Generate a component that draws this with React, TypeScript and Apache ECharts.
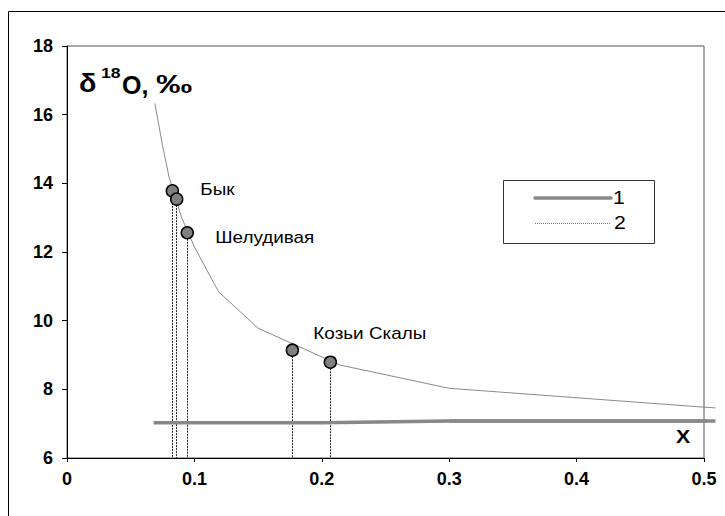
import React, { useEffect, useRef } from "react";
import * as echarts from "echarts";

// Curve 1 (thick gray)
const curve1X = [0.068, 0.2, 0.3, 0.509];
const curve1Y = [7.03, 7.03, 7.08, 7.08];
// Curve 2 (thin gray)
const curve2X = [0.069, 0.075, 0.08, 0.09, 0.1, 0.119, 0.15, 0.214, 0.3, 0.5, 0.509];
const curve2Y = [16.33, 15.1, 14.2, 13.0, 12.15, 10.84, 9.78, 8.71, 8.03, 7.48, 7.46];
// Sample points
const pointX = [0.0827, 0.0861, 0.0944, 0.1769, 0.2067];
const pointY = [13.78, 13.54, 12.56, 9.14, 8.79];
const pointNames = ["Бык", "", "Шелудивая", "Козьи Скалы", ""];
const seriesNames = ["1", "2"];
const xTickLabels = ["0", "0.1", "0.2", "0.3", "0.4", "0.5"];
const yTickLabels = ["6", "8", "10", "12", "14", "16", "18"];
const X_MAX = 0.5;

const FONT = "Arial, 'Liberation Sans', sans-serif";
const SX = 1.18;

export default function App() {
  const ref = useRef<HTMLDivElement>(null);
  useEffect(() => {
    if (!ref.current) return;
    const chart = echarts.init(ref.current, undefined, { renderer: "svg" });
    const option: any = {
      animation: false,
      backgroundColor: "#fff",
      grid: {
        left: 67,
        top: 46,
        right: 21,
        bottom: 58,
        show: true,
        borderColor: "#555",
        borderWidth: 1,
      },
      xAxis: {
        type: "value",
        min: 0,
        max: X_MAX,
        interval: 0.1,
        axisLine: { lineStyle: { color: "#000", width: 1 } },
        axisTick: { show: true, length: 4, lineStyle: { color: "#000" } },
        splitLine: { show: false },
        axisLabel: {
          margin: 12,
          color: "#000",
          fontWeight: "bold",
          fontSize: 18,
          fontFamily: FONT,
          formatter: (v: number) => xTickLabels[Math.round(v * 10)] ?? "",
        },
      },
      yAxis: {
        type: "value",
        min: 6,
        max: 18,
        interval: 2,
        axisLine: { show: true, lineStyle: { color: "#000", width: 1 } },
        axisTick: { show: true, length: 5, lineStyle: { color: "#000" } },
        splitLine: { show: false },
        axisLabel: {
          margin: 14,
          color: "#000",
          fontWeight: "bold",
          fontSize: 18,
          fontFamily: FONT,
          formatter: (v: number) => yTickLabels[Math.round((v - 6) / 2)] ?? "",
        },
      },
      series: [
        {
          name: seriesNames[0],
          type: "line",
          data: curve1X.map((x, i) => [x, curve1Y[i]]),
          symbol: "none",
          clip: false,
          lineStyle: { color: "#888", width: 3.5 },
          itemStyle: { color: "#888" },
          z: 2,
        },
        {
          name: seriesNames[1],
          type: "line",
          data: curve2X.map((x, i) => [x, curve2Y[i]]),
          symbol: "none",
          clip: false,
          lineStyle: { color: "#8a8a8a", width: 1 },
          itemStyle: { color: "#8a8a8a" },
          z: 2,
        },
        {
          name: "points",
          type: "scatter",
          data: pointX.map((x, i) => ({ value: [x, pointY[i]], name: pointNames[i] })),
          symbol: "circle",
          symbolSize: 12,
          itemStyle: { color: "#808080", borderColor: "#000", borderWidth: 1.5, opacity: 1 },
          z: 5,
          markLine: {
            silent: true,
            symbol: "none",
            label: { show: false },
            lineStyle: { color: "#222", type: [2, 1], width: 1 },
            data: pointX.map((x, i) => [
              { coord: [x, pointY[i]] },
              { coord: [x, 6] },
            ]),
            z: 1,
          },
        },
      ],
    };
    chart.setOption(option);

    const toPx = (x: number, y: number) =>
      chart.convertToPixel({ gridIndex: 0 }, [x, y]) as number[];

    // parts of the curves beyond the axis maximum (the series stop at the max)
    const beyond = (xs: number[], ys: number[]) => {
      const pts: number[][] = [];
      for (let i = 0; i < xs.length; i++) {
        if (xs[i] >= X_MAX || (i + 1 < xs.length && xs[i + 1] > X_MAX)) pts.push(toPx(xs[i], ys[i]));
      }
      return pts;
    };
    const ext1 = beyond(curve1X, curve1Y);
    const ext2 = beyond(curve2X, curve2Y);

    // Labels attached to the points (positions from the chart's own scales)
    const labelOffsets: Record<number, [number, number]> = {
      0: [28, -1],
      2: [28, 5],
      3: [21, -17],
    };
    const pointLabels: any[] = [];
    pointNames.forEach((name, i) => {
      if (!name) return;
      const p = toPx(pointX[i], pointY[i]);
      const off = labelOffsets[i] || [20, 0];
      pointLabels.push({
        type: "text",
        x: p[0] + off[0],
        y: p[1] + off[1],
        scaleX: SX,
        style: {
          text: name,
          font: `16px ${FONT}`,
          fill: "#000",
          verticalAlign: "middle",
        },
        z: 10,
      });
    });

    const lx = 503, ly = 180, lw = 151, lh = 63;
    chart.setOption({
      graphic: [
        {
          type: "rect",
          shape: { x: 8.5, y: 11.5, width: 900, height: 700 },
          style: { fill: "none", stroke: "#000", lineWidth: 1 },
          silent: true,
          z: -1,
        },
        {
          type: "polyline",
          shape: { points: ext1 },
          style: { stroke: "#888", lineWidth: 3.5, fill: "none" },
          z: 2,
        },
        {
          type: "polyline",
          shape: { points: ext2 },
          style: { stroke: "#8a8a8a", lineWidth: 1, fill: "none" },
          z: 2,
        },
        {
          type: "text",
          x: 79,
          y: 84,
          scaleX: 1.15,
          style: {
            text: "δ",
            font: `bold 25px ${FONT}`,
            fill: "#000",
            verticalAlign: "middle",
          },
        },
        {
          type: "text",
          x: 101,
          y: 73,
          scaleX: SX,
          style: {
            text: "18",
            font: `bold 15px ${FONT}`,
            fill: "#000",
            verticalAlign: "middle",
          },
        },
        {
          type: "text",
          x: 122,
          y: 85,
          style: {
            text: "O,",
            font: `bold 25px ${FONT}`,
            fill: "#000",
            verticalAlign: "middle",
          },
        },
        {
          type: "text",
          x: 156,
          y: 85,
          scaleX: 1.45,
          style: {
            text: "‰",
            font: `bold 25px ${FONT}`,
            fill: "#000",
            verticalAlign: "middle",
          },
        },
        {
          type: "text",
          x: 683,
          y: 437,
          scaleX: SX,
          style: {
            text: "X",
            font: `bold 18px ${FONT}`,
            fill: "#000",
            align: "center",
            verticalAlign: "middle",
          },
        },
        // legend
        {
          type: "rect",
          shape: { x: lx + 0.5, y: ly + 0.5, width: lw, height: lh },
          style: { fill: "#fff", stroke: "#333", lineWidth: 1 },
          z: 20,
        },
        {
          type: "line",
          shape: { x1: 535, y1: 198, x2: 611, y2: 198 },
          style: { stroke: "#888", lineWidth: 3.5, lineCap: "round" },
          z: 21,
        },
        {
          type: "text",
          x: 613,
          y: 198,
          scaleX: SX,
          style: { text: seriesNames[0], font: `18px ${FONT}`, fill: "#000", verticalAlign: "middle" },
          z: 21,
        },
        {
          type: "line",
          shape: { x1: 535, y1: 223.5, x2: 610, y2: 223.5 },
          style: { stroke: "#777", lineWidth: 1, lineDash: [1, 1] },
          z: 21,
        },
        {
          type: "text",
          x: 614,
          y: 223,
          scaleX: SX,
          style: { text: seriesNames[1], font: `18px ${FONT}`, fill: "#000", verticalAlign: "middle" },
          z: 21,
        },
        ...pointLabels,
      ],
    });
    return () => chart.dispose();
  }, []);
  return <div ref={ref} style={{ width: 725, height: 516, position: "absolute", left: 0, top: 0 }} />;
}
